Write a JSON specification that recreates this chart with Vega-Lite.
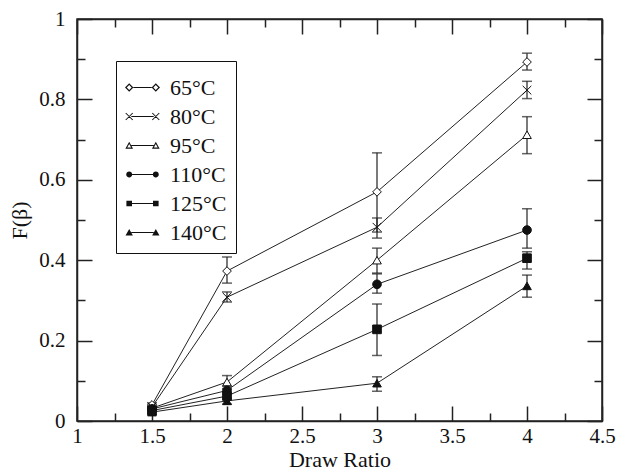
{
  "$schema": "https://vega.github.io/schema/vega-lite/v6.json",
  "autosize": {"type": "none"},
  "padding": {"left": 77, "top": 19, "right": 16, "bottom": 51},
  "width": 525,
  "height": 402,
  "background": "white",
  "config": {
    "view": {"stroke": "#222", "strokeWidth": 1.5},
    "font": "Liberation Serif",
    "axis": {
      "labelFont": "Liberation Serif",
      "labelFontSize": 21,
      "labelColor": "#111",
      "titleFont": "Liberation Serif",
      "titleFontSize": 22,
      "titleFontWeight": "normal",
      "titleColor": "#111",
      "domainColor": "#222",
      "domainWidth": 1.5,
      "tickColor": "#222",
      "tickWidth": 1.5,
      "grid": false
    },
    "legend": {
      "labelFont": "Liberation Serif",
      "labelFontSize": 22,
      "labelColor": "#111"
    }
  },
  "data": {
    "values": [
      {"series": "65°C", "x": 1.5, "y": 0.040, "lo": 0.035, "hi": 0.045},
      {"series": "65°C", "x": 2, "y": 0.373, "lo": 0.343, "hi": 0.408},
      {"series": "65°C", "x": 3, "y": 0.570, "lo": 0.470, "hi": 0.667},
      {"series": "65°C", "x": 4, "y": 0.893, "lo": 0.873, "hi": 0.915},
      {"series": "80°C", "x": 1.5, "y": 0.035, "lo": 0.030, "hi": 0.040},
      {"series": "80°C", "x": 2, "y": 0.308, "lo": 0.296, "hi": 0.321},
      {"series": "80°C", "x": 3, "y": 0.482, "lo": 0.455, "hi": 0.505},
      {"series": "80°C", "x": 4, "y": 0.823, "lo": 0.802, "hi": 0.845},
      {"series": "95°C", "x": 1.5, "y": 0.032, "lo": 0.027, "hi": 0.037},
      {"series": "95°C", "x": 2, "y": 0.097, "lo": 0.080, "hi": 0.113},
      {"series": "95°C", "x": 3, "y": 0.400, "lo": 0.368, "hi": 0.430},
      {"series": "95°C", "x": 4, "y": 0.712, "lo": 0.665, "hi": 0.757},
      {"series": "110°C", "x": 1.5, "y": 0.030, "lo": 0.025, "hi": 0.035},
      {"series": "110°C", "x": 2, "y": 0.076, "lo": 0.066, "hi": 0.086},
      {"series": "110°C", "x": 3, "y": 0.340, "lo": 0.318, "hi": 0.366},
      {"series": "110°C", "x": 4, "y": 0.475, "lo": 0.430, "hi": 0.528},
      {"series": "125°C", "x": 1.5, "y": 0.026, "lo": 0.021, "hi": 0.031},
      {"series": "125°C", "x": 2, "y": 0.062, "lo": 0.054, "hi": 0.070},
      {"series": "125°C", "x": 3, "y": 0.228, "lo": 0.163, "hi": 0.291},
      {"series": "125°C", "x": 4, "y": 0.405, "lo": 0.378, "hi": 0.421},
      {"series": "140°C", "x": 1.5, "y": 0.022, "lo": 0.017, "hi": 0.027},
      {"series": "140°C", "x": 2, "y": 0.050, "lo": 0.042, "hi": 0.058},
      {"series": "140°C", "x": 3, "y": 0.094, "lo": 0.074, "hi": 0.110},
      {"series": "140°C", "x": 4, "y": 0.336, "lo": 0.308, "hi": 0.363}
    ]
  },
  "layer": [
    {
      "mark": {"type": "line", "color": "#222", "strokeWidth": 1},
      "encoding": {
        "x": {
          "field": "x", "type": "quantitative",
          "scale": {"domain": [1, 4.5], "nice": false, "zero": false},
          "axis": {
            "orient": "bottom",
            "title": "Draw Ratio",
            "titlePadding": -4,
            "values": [1, 1.25, 1.5, 1.75, 2, 2.25, 2.5, 2.75, 3, 3.25, 3.5, 3.75, 4, 4.25, 4.5],
            "tickSize": {"condition": {"test": "abs(datum.value*2 - round(datum.value*2)) < 0.001", "value": -15}, "value": -8},
            "labelExpr": "abs(datum.value*2 - round(datum.value*2)) < 0.001 ? format(datum.value, '') : ''",
            "labelPadding": 19,
            "labelFlush": false,
            "labelOverlap": false
          }
        },
        "y": {
          "field": "y", "type": "quantitative",
          "scale": {"domain": [0, 1], "nice": false},
          "axis": {
            "orient": "left",
            "title": "F(β)",
            "titlePadding": 7,
            "values": [0, 0.1, 0.2, 0.3, 0.4, 0.5, 0.6, 0.7, 0.8, 0.9, 1],
            "tickSize": {"condition": {"test": "abs(datum.value*5 - round(datum.value*5)) < 0.001", "value": -15}, "value": -8},
            "labelExpr": "abs(datum.value*5 - round(datum.value*5)) < 0.001 ? format(datum.value, '') : ''",
            "labelPadding": 27,
            "labelFlush": false,
            "labelOverlap": false
          }
        },
        "detail": {"field": "series"}
      }
    },
    {
      "mark": {"type": "rule", "color": "#222", "strokeWidth": 1.2},
      "encoding": {
        "x": {
          "field": "x", "type": "quantitative",
          "axis": {
            "orient": "top",
            "title": null,
            "values": [1, 1.25, 1.5, 1.75, 2, 2.25, 2.5, 2.75, 3, 3.25, 3.5, 3.75, 4, 4.25, 4.5],
            "tickSize": {"condition": {"test": "abs(datum.value*2 - round(datum.value*2)) < 0.001", "value": -15}, "value": -8},
            "labels": false
          }
        },
        "y": {
          "field": "lo", "type": "quantitative",
          "axis": {
            "orient": "right",
            "title": null,
            "values": [0, 0.1, 0.2, 0.3, 0.4, 0.5, 0.6, 0.7, 0.8, 0.9, 1],
            "tickSize": {"condition": {"test": "abs(datum.value*5 - round(datum.value*5)) < 0.001", "value": -15}, "value": -8},
            "labels": false
          }
        },
        "y2": {"field": "hi"}
      }
    },
    {
      "mark": {"type": "tick", "orient": "horizontal", "color": "#222", "size": 10, "thickness": 1.5},
      "encoding": {
        "x": {"field": "x", "type": "quantitative", "axis": null},
        "y": {"field": "lo", "type": "quantitative", "axis": null}
      }
    },
    {
      "mark": {"type": "tick", "orient": "horizontal", "color": "#222", "size": 10, "thickness": 1.5},
      "encoding": {
        "x": {"field": "x", "type": "quantitative", "axis": null},
        "y": {"field": "hi", "type": "quantitative", "axis": null}
      }
    },
    {
      "mark": {"type": "point", "filled": true, "stroke": "#111", "strokeWidth": 1, "size": 75, "opacity": 1},
      "encoding": {
        "x": {"field": "x", "type": "quantitative", "axis": null},
        "y": {"field": "y", "type": "quantitative", "axis": null},
        "shape": {
          "field": "series", "type": "nominal", "legend": null,
          "scale": {
            "domain": ["65°C", "80°C", "95°C", "110°C", "125°C", "140°C"],
            "range": ["diamond", "M-1,-1L1,1M-1,1L1,-1", "triangle-up", "circle", "square", "triangle-up"]
          }
        },
        "fill": {
          "field": "series", "type": "nominal", "legend": null,
          "scale": {
            "domain": ["65°C", "80°C", "95°C", "110°C", "125°C", "140°C"],
            "range": ["white", "white", "white", "#111", "#111", "#111"]
          }
        }
      }
    },
    {
      "transform": [{"filter": "datum.x > 100"}],
      "mark": {"type": "point", "filled": true, "color": "#111", "strokeWidth": 0, "opacity": 1},
      "encoding": {
        "x": {"field": "x", "type": "quantitative", "axis": null},
        "y": {"field": "y", "type": "quantitative", "axis": null},
        "shape": {
          "field": "series", "type": "nominal",
          "scale": {
            "domain": ["65°C", "80°C", "95°C", "110°C", "125°C", "140°C"],
            "range": [
              "M-1,0L-0.76,-0.24L-0.52,0L-0.76,0.24ZM-0.9,0L-0.76,0.14L-0.62,0L-0.76,-0.14ZM0.52,0L0.76,-0.24L1,0L0.76,0.24ZM0.62,0L0.76,0.14L0.9,0L0.76,-0.14ZM-0.52,-0.03L0.52,-0.03L0.52,0.03L-0.52,0.03Z",
              "M-0.939,-0.221L-0.539,0.179L-0.581,0.221L-0.981,-0.179ZM-0.939,0.221L-0.981,0.179L-0.581,-0.221L-0.539,-0.179ZM0.581,-0.221L0.981,0.179L0.939,0.221L0.539,-0.179ZM0.581,0.221L0.539,0.179L0.939,-0.221L0.981,-0.179ZM-0.64,-0.03L0.64,-0.03L0.64,0.03L-0.64,0.03Z",
              "M-0.76,-0.22L-0.54,0.18L-0.98,0.18ZM-0.76,-0.085L-0.87,0.115L-0.65,0.115ZM0.76,-0.22L0.98,0.18L0.54,0.18ZM0.76,-0.085L0.65,0.115L0.87,0.115ZM-0.64,-0.03L0.64,-0.03L0.64,0.03L-0.64,0.03Z",
              "M-0.93,0A0.17,0.17 0 1,1 -0.59,0A0.17,0.17 0 1,1 -0.93,0ZM0.59,0A0.17,0.17 0 1,1 0.93,0A0.17,0.17 0 1,1 0.59,0ZM-0.6,-0.03L0.6,-0.03L0.6,0.03L-0.6,0.03Z",
              "M-0.92,-0.16L-0.6,-0.16L-0.6,0.16L-0.92,0.16ZM0.6,-0.16L0.92,-0.16L0.92,0.16L0.6,0.16ZM-0.6,-0.03L0.6,-0.03L0.6,0.03L-0.6,0.03Z",
              "M-0.76,-0.2L-0.55,0.17L-0.97,0.17ZM0.76,-0.2L0.97,0.17L0.55,0.17ZM-0.64,-0.03L0.64,-0.03L0.64,0.03L-0.64,0.03Z"
            ]
          },
          "legend": {
            "orient": "none",
            "legendX": 39,
            "legendY": 42,
            "title": null,
            "strokeColor": "#111",
            "fillColor": "white",
            "padding": 9,
            "symbolSize": 1225,
            "symbolFillColor": "#111",
            "symbolStrokeWidth": 0,
            "labelOffset": 10,
            "rowPadding": -2,
            "labelFontSize": 22
          }
        }
      }
    }
  ],
  "resolve": {
    "axis": {"x": "independent", "y": "independent"},
    "scale": {"shape": "independent"},
    "legend": {"shape": "independent"}
  }
}
